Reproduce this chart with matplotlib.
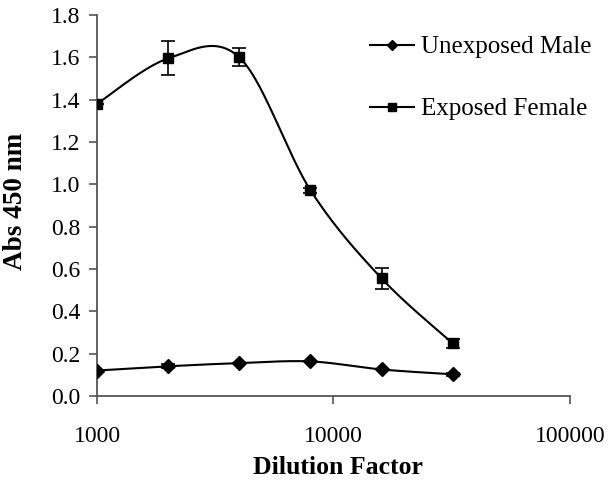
import numpy as np
import matplotlib
matplotlib.use("Agg")
import matplotlib.pyplot as plt
from matplotlib.lines import Line2D

dilution = [1000, 2000, 4000, 8000, 16000, 32000]
male = [0.12, 0.14, 0.155, 0.163, 0.125, 0.102]
male_err = [0.0, 0.01, 0.0, 0.0, 0.0, 0.008]
female = [1.38, 1.595, 1.60, 0.972, 0.555, 0.248]
female_err = [0.0, 0.08, 0.042, 0.012, 0.05, 0.022]
x_ticks = [1000, 10000, 100000]
y_ticks = [0.0, 0.2, 0.4, 0.6, 0.8, 1.0, 1.2, 1.4, 1.6, 1.8]

plt.rcParams['font.family'] = ['Liberation Serif', 'DejaVu Serif']


def smooth(xs, ys, n=40):
    # Catmull-Rom (Excel-like smoothing) in log10(x) space
    lx = np.log10(np.asarray(xs, float))
    y = np.asarray(ys, float)
    P = np.column_stack([lx, y])
    P = np.vstack([P[0], P, P[-1]])
    out = []
    for i in range(1, len(P) - 2):
        p0, p1, p2, p3 = P[i - 1], P[i], P[i + 1], P[i + 2]
        c1 = p1 + (p2 - p0) / 6.0
        c2 = p2 - (p3 - p1) / 6.0
        t = np.linspace(0, 1, n)[:, None]
        seg = ((1 - t) ** 3) * p1 + 3 * ((1 - t) ** 2) * t * c1 + 3 * (1 - t) * t ** 2 * c2 + t ** 3 * p2
        out.append(seg if i == 1 else seg[1:])
    S = np.vstack(out)
    return 10 ** S[:, 0], S[:, 1]


fig = plt.figure(figsize=(6.12, 4.84), dpi=100)
ax = fig.add_axes([0.1585, 0.182, 0.7725, 0.787])

for ys, err, mk, ms in [(male, male_err, 'D', 7), (female, female_err, 's', 7.5)]:
    sx, sy = smooth(dilution, ys)
    ax.plot(sx, sy, color='black', lw=1.5, zorder=2)
    ax.errorbar(dilution, ys, yerr=err, fmt='none', ecolor='black', elinewidth=1.2,
                capsize=5, capthick=1.2, zorder=3)
    ax.plot(dilution, ys, linestyle='none', marker=mk, ms=ms, color='black', zorder=4)

ax.set_xscale('log')
ax.set_xlim(1000, 100000)
ax.set_ylim(0, 1.8)
ax.set_xticks(x_ticks)
ax.set_xticklabels([str(v) for v in x_ticks])
ax.xaxis.set_minor_locator(matplotlib.ticker.NullLocator())
ax.set_yticks(y_ticks)
ax.set_yticklabels([f"{v:.1f}" for v in y_ticks])
ax.tick_params(axis='both', labelsize=17, length=6, width=1.2, color='#555555', direction='out')
ax.tick_params(axis='x', pad=16)
ax.tick_params(axis='y', pad=6)
for s in ['top', 'right']:
    ax.spines[s].set_visible(False)
for s in ['left', 'bottom']:
    ax.spines[s].set_color('#555555')
    ax.spines[s].set_linewidth(1.3)

ax.set_xlabel('Dilution Factor', fontsize=18.5, fontweight='bold')
ax.xaxis.set_label_coords(0.51, -0.158)
ax.set_ylabel('Abs 450 nm', fontsize=19.5, fontweight='bold')
ax.yaxis.set_label_coords(-0.146, 0.512)

handles = [Line2D([], [], color='black', lw=1.5, marker='D', ms=5.5),
           Line2D([], [], color='black', lw=1.5, marker='s', ms=6)]
ax.legend(handles, ['Unexposed Male', 'Exposed Female'], loc='upper left',
          bbox_to_anchor=(370 / 612, 1 - 36 / 484), bbox_transform=fig.transFigure,
          frameon=False, fontsize=18, handlelength=1.75, borderpad=0, borderaxespad=0,
          labelspacing=1.57, handletextpad=0.3)

fig.savefig('out.png', dpi=100)
